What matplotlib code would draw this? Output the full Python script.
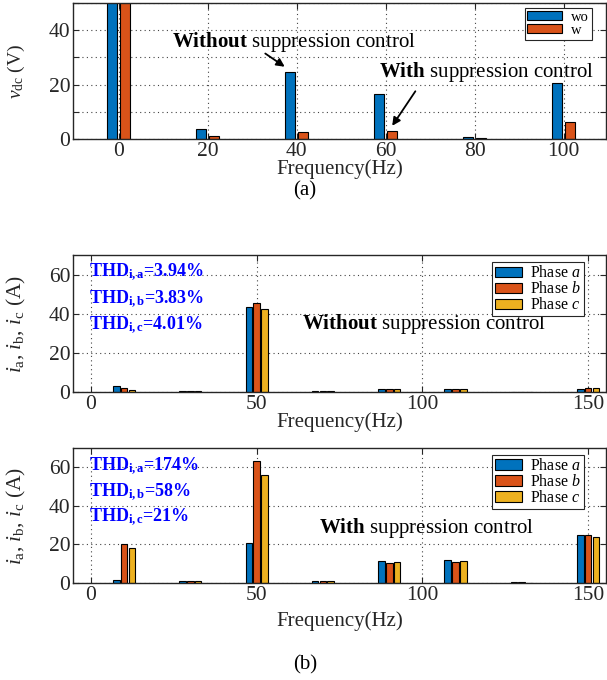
import numpy as np
import matplotlib
matplotlib.use("Agg")
import matplotlib.pyplot as plt

# (a) dc-link voltage spectrum
freq_a = [0, 20, 40, 60, 80, 100]
vdc_wo = [60, 3.7, 24.8, 16.4, 0.6, 20.7]
vdc_w = [60, 1.0, 2.6, 3.1, 0.3, 6.4]

# (b) phase current spectra
freq_b = [10, 30, 50, 70, 90, 110, 130, 150]
wo_a = [2.9, 0.3, 43.6, 0.3, 1.7, 1.4, 0.0, 1.6]
wo_b = [1.9, 0.3, 45.3, 0.3, 1.6, 1.3, 0.0, 1.8]
wo_c = [1.0, 0.3, 42.2, 0.3, 1.6, 1.4, 0.0, 1.9]
w_a = [1.5, 1.2, 21.0, 1.2, 11.4, 11.9, 0.5, 25.0]
w_b = [20.0, 0.8, 63.1, 0.8, 10.5, 10.8, 0.5, 24.7]
w_c = [18.3, 0.9, 56.2, 0.9, 10.8, 11.2, 0.1, 24.0]
thd_wo = ["3.94%", "3.83%", "4.01%"]
thd_w = ["174%", "58%", "21%"]

c_blue = "#0072BD"
c_red = "#D95319"
c_yel = "#EDB120"
grey = "#262626"

plt.rcParams["font.family"] = ["Liberation Serif", "DejaVu Serif"]
plt.rcParams["mathtext.fontset"] = "custom"
plt.rcParams["mathtext.rm"] = "Liberation Serif"
plt.rcParams["mathtext.it"] = "Liberation Serif:italic"
plt.rcParams["mathtext.bf"] = "Liberation Serif:bold"
plt.rcParams["xtick.direction"] = "in"
plt.rcParams["ytick.direction"] = "in"
plt.rcParams["xtick.top"] = True
plt.rcParams["ytick.right"] = True

fig = plt.figure(figsize=(6.07, 6.8), dpi=100)
W, H = 607.0, 680.0


def make_ax(left, right, top, bottom):
    return fig.add_axes([left / W, 1 - bottom / H, (right - left) / W, (bottom - top) / H])


def style(ax):
    for s in ax.spines.values():
        s.set_color(grey)
        s.set_linewidth(1.0)
    ax.tick_params(colors=grey, labelsize=15.5, length=4, width=0.8, pad=2)
    ax.grid(True, linestyle=(0, (1, 3)), color="#444444", linewidth=0.8)
    ax.set_axisbelow(True)


def labels(ax, xl, yl, xoff, ysize):
    h = ax.get_position().height * H
    ax.set_xlabel(xl, fontsize=15, color=grey)
    ax.xaxis.set_label_coords(0.5, -xoff / h)
    ax.xaxis.label.set_va("center")
    ax.set_ylabel(yl, fontsize=ysize, color=grey)
    ax.yaxis.set_label_coords(-(73 - 16) / 533.0, 0.5)
    ax.yaxis.label.set_va("center")


# ---------- (a)
ax1 = make_ax(73, 606, 3, 139)
x = np.array(freq_a)
bw = 2.3
ax1.bar(x - 1.45, vdc_wo, bw, color=c_blue, edgecolor="black", linewidth=0.8, label="wo")
ax1.bar(x + 1.45, vdc_w, bw, color=c_red, edgecolor="black", linewidth=0.8, label="w")
ax1.set_xlim(-10.3, 109.5)
ax1.set_ylim(0, 50)
ax1.set_xticks(freq_a)
ax1.set_yticks([0, 10, 20, 30, 40, 50])
ax1.set_yticklabels(["0", "", "20", "", "40", ""])
style(ax1)
labels(ax1, "Frequency(Hz)", r"$v_{\rm dc}$ (V)", 30, 14)
leg = ax1.legend(loc="upper right", fontsize=10.5, handlelength=2.4, handleheight=0.6,
                 fancybox=False, framealpha=1, edgecolor=grey, borderpad=0.2,
                 labelspacing=0.0, handletextpad=0.6, borderaxespad=0,
                 bbox_to_anchor=((592 - 73) / 533.0, (139 - 8) / 136.0))
leg.get_frame().set_linewidth(0.8)
ax1.text(11.9, 35.7, r"$\mathbf{Without}$ suppression control", fontsize=15, va="center")
ax1.annotate("", xy=(37.8, 26), xytext=(32.4, 32),
             arrowprops=dict(arrowstyle="-|>", color="black", lw=1.3, mutation_scale=12))
ax1.text(58.4, 24.6, r"$\mathbf{With}$ suppression control", fontsize=15, va="center")
ax1.annotate("", xy=(61.1, 4.0), xytext=(67, 18.4),
             arrowprops=dict(arrowstyle="-|>", color="black", lw=1.3, mutation_scale=12))
fig.text(305 / W, 1 - 191 / H, "(a)", fontsize=15, ha="center", va="center")


# ---------- (b)
def phase_panel(ax, ya, yb, yc, thd, label, lx, ly, thd_y, xoff):
    xb = np.array(freq_b)
    bw = 2.0
    ax.bar(xb - 2.35, ya, bw, color=c_blue, edgecolor="black", linewidth=0.8, label="Phase $a$")
    ax.bar(xb, yb, bw, color=c_red, edgecolor="black", linewidth=0.8, label="Phase $b$")
    ax.bar(xb + 2.35, yc, bw, color=c_yel, edgecolor="black", linewidth=0.8, label="Phase $c$")
    ax.set_xlim(-5.4, 155.4)
    ax.set_ylim(0, 70)
    ax.set_xticks([0, 50, 100, 150])
    ax.set_yticks([0, 20, 40, 60])
    style(ax)
    labels(ax, "Frequency(Hz)", r"$i_{\rm a}$, $i_{\rm b}$, $i_{\rm c}$ (A)", xoff, 15.5)
    lg = ax.legend(loc="upper right", fontsize=11.5, handlelength=1.7, handleheight=0.6,
                   fancybox=False, framealpha=1, edgecolor=grey, borderpad=0.2,
                   labelspacing=0.0, handletextpad=0.5, borderaxespad=0,
                   bbox_to_anchor=((584 - 73) / 533.0, 1 - 7 / 136.0))
    lg.get_frame().set_linewidth(0.8)
    subs = ["i,a", "i,b", "i,c"]
    for s, v, yy in zip(subs, thd, thd_y):
        ax.text(-0.5, yy, "THD$_{\\mathbf{" + s + "}}$=" + v, fontsize=13,
                fontweight="bold", color="#0000FF", va="center")
    ax.text(lx, ly, label, fontsize=15, va="center")


ax2 = make_ax(73, 606, 255, 392)
phase_panel(ax2, wo_a, wo_b, wo_c, thd_wo, r"$\mathbf{Without}$ suppression control",
            63.7, 35, [61, 47.3, 34.3], 30)

ax3 = make_ax(73, 606, 448, 583)
phase_panel(ax3, w_a, w_b, w_c, thd_w, r"$\mathbf{With}$ suppression control",
            68.9, 28.5, [60.3, 47.2, 34], 38)
fig.text(305 / W, 1 - 665 / H, "(b)", fontsize=15, ha="center", va="center")

fig.savefig("out.png", dpi=100)
